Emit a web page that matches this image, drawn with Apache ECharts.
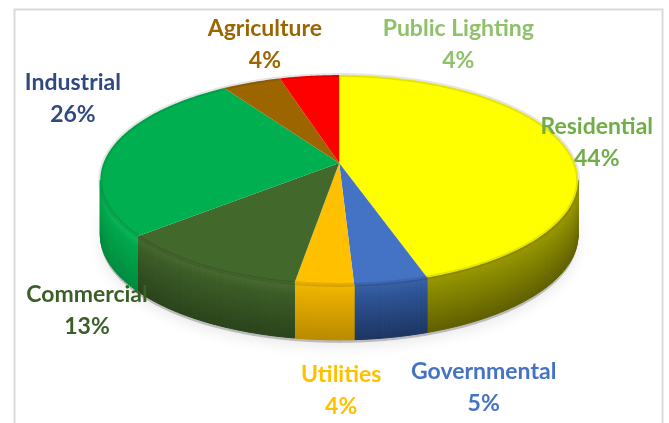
<!DOCTYPE html>
<html>
<head>
<meta charset="utf-8">
<script src="https://cdn.jsdelivr.net/npm/echarts@6/dist/echarts.min.js"></script>
<style>
  html, body { margin: 0; padding: 0; background: #fff; }
  #main { width: 669px; height: 423px; }
</style>
</head>
<body>
<div id="main"></div>
<script>
// data, clockwise from 12 o'clock
const categories = ['Residential', 'Governmental', 'Utilities', 'Commercial', 'Industrial', 'Agriculture', 'Public Lighting']
const shares = [44, 5, 4, 13, 26, 4, 4]

// styles
const topColors = ['#FFFF00', '#4472C4', '#FFC000', '#43682B', '#00B050', '#9C6500', '#FF0000']
const sideColors = [['#9A9A00', '#8C8C00', '#5E5E00'], ['#3A62A8', '#2E5597', '#1C3461'], ['#F0B800', '#E6AC00', '#B88A00'], ['#4A6E32', '#3B5C26', '#2A431B'], ['#10BC5C', '#00A84C', '#008A3E'], ['#9A6A00', '#8A5A00', '#6B4500'], ['#E81010', '#D80000', '#A00000']]
const labelColors = ['#70AD47', '#4472C4', '#FFC000', '#3A5F27', '#2F4A7F', '#9C6500', '#8FC06A']
// label anchors as fraction of chart width / height (Excel best-fit placement)
const labelAnchors = [[0.892, 0.336], [0.723, 0.917], [0.51, 0.924], [0.13, 0.735], [0.109, 0.232], [0.396, 0.106], [0.685, 0.106]]

const total = shares.reduce((s, v) => s + v, 0)
const starts = []
let acc = 0
shares.forEach(v => { starts.push(acc / total); acc += v })

function geom(api) {
  const W = api.getWidth(), H = api.getHeight()
  return { cx: W * 0.507, cy: H * 0.4255, rx: W * 0.357, ry: H * 0.248, depth: H * 0.13, lift: H * 0.04, W: W, H: H }
}

function rim(g, t, dy) {
  const a = t * Math.PI * 2
  return [g.cx + g.rx * Math.sin(a), g.cy - g.ry * Math.cos(a) + (dy || 0)]
}

function renderShadow(params, api) {
  const g = geom(api)
  const pts = []
  for (let t = 0.25; t <= 0.75001; t += 1 / 360) pts.push(rim(g, t, g.depth + 3))
  for (let t = 0.75; t >= 0.24999; t -= 1 / 360) pts.push(rim(g, t, g.depth * 0.2))
  return {
    type: 'polygon',
    shape: { points: pts },
    style: { fill: 'rgba(0,0,0,0.22)', shadowBlur: 14, shadowColor: 'rgba(0,0,0,0.4)', shadowOffsetY: 4 }
  }
}

function renderSlice(params, api) {
  const g = geom(api)
  const i = params.dataIndex
  const t0 = starts[i]
  const t1 = t0 + api.value(0) / total
  const children = []

  // side wall (front half only)
  const s0 = Math.max(t0, 0.25), s1 = Math.min(t1, 0.75)
  const step = 1 / 360
  for (let t = s0; t < s1; t += step) {
    const te = Math.min(t + step, s1)
    const a = rim(g, t), b = rim(g, te)
    const grad = new echarts.graphic.LinearGradient(0, 0, 0, 1, [
      { offset: 0, color: sideColors[i][0] },
      { offset: 0.22, color: sideColors[i][1] },
      { offset: 1, color: sideColors[i][2] }
    ])
    children.push({
      type: 'polygon',
      shape: { points: [a, b, [b[0], b[1] + g.depth], [a[0], a[1] + g.depth]] },
      style: { fill: grad, stroke: grad, lineWidth: 1 }
    })
  }

  // top face
  const pts = [[g.cx, g.cy - g.lift]]
  const arc = []
  for (let t = t0; t < t1; t += 1 / 720) arc.push(rim(g, t))
  arc.push(rim(g, t1))
  children.push({
    type: 'polygon',
    shape: { points: pts.concat(arc) },
    style: { fill: topColors[i] }
  })
  // soft bevel along the rim
  children.push({
    type: 'polyline',
    shape: { points: arc },
    style: { stroke: 'rgba(0,0,0,0.10)', lineWidth: 4, fill: null }
  })

  // label
  children.push({
    type: 'text',
    x: labelAnchors[i][0] * g.W,
    y: labelAnchors[i][1] * g.H,
    style: {
      text: categories[i] + '\n' + shares[i] + '%',
      fill: labelColors[i],
      font: 'bold 23px Lato',
      lineHeight: 32,
      align: 'center',
      verticalAlign: 'middle'
    }
  })
  return { type: 'group', children: children }
}

const chart = echarts.init(document.getElementById('main'))
chart.setOption({
  animation: false,
  graphic: [{
    type: 'rect',
    left: 12,
    top: 7,
    shape: { width: 648, height: 440 },
    style: { fill: 'none', stroke: '#D9D9D9', lineWidth: 2 },
    z: -10
  }],
  series: [
    {
      type: 'custom',
      coordinateSystem: 'none',
      silent: true,
      renderItem: renderShadow,
      data: [[0]]
    },
    {
      type: 'custom',
      coordinateSystem: 'none',
      silent: true,
      renderItem: renderSlice,
      data: shares.map(v => [v])
    }
  ]
})

window.onresize = function () {
  chart.resize()
}
</script>
</body>
</html>
